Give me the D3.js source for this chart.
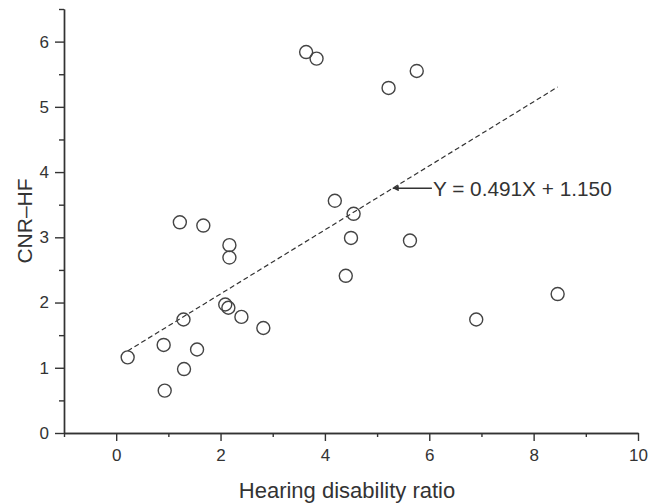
<!DOCTYPE html>
<html>
<head>
<meta charset="utf-8">
<script src="https://cdn.jsdelivr.net/npm/d3@7"></script>
<style>
  body { margin: 0; background: #fff; }
  svg { display: block; font-family: "Liberation Sans", Arial, sans-serif; }
  .axis path, .axis line { stroke: #333; stroke-width: 1.4; }
  .axis text { fill: #333; font-size: 17px; }
</style>
</head>
<body>
<div id="chart"></div>
<script>
// Hearing disability ratio (x) vs CNR-HF (y)
const hearingRatio = [0.22, 0.91, 0.93, 1.22, 1.67, 1.30, 1.55, 1.29, 2.17, 2.17, 2.09, 2.15, 2.40, 2.82,
  3.64, 3.84, 4.19, 4.55, 4.50, 4.40, 5.22, 5.76, 5.63, 6.90, 8.46];
const cnrHf = [1.16, 1.35, 0.65, 3.23, 3.18, 0.98, 1.28, 1.74, 2.88, 2.69, 1.97, 1.92, 1.78, 1.61,
  5.84, 5.74, 3.56, 3.36, 2.99, 2.41, 5.29, 5.55, 2.95, 1.74, 2.13];

const xMajorTicks = [0, 2, 4, 6, 8, 10];
const xMinorTicks = [-1, 1, 3, 5, 7, 9];
const yMajorTicks = [0, 1, 2, 3, 4, 5, 6];
const yMinorTicks = [0.5, 1.5, 2.5, 3.5, 4.5, 5.5, 6.5];

// regression Y = 0.491X + 1.150, drawn over the range of the data
const slope = 0.491;
const intercept = 1.150;
const fitLabel = "Y = 0.491X + 1.150";
const arrowFrom = 6.05;
const arrowTo = 5.30;

const width = 664, height = 503;
const margin = {top: 9, right: 26, bottom: 70, left: 64};

const svg = d3.select("#chart").append("svg")
    .attr("width", width)
    .attr("height", height);

const x = d3.scaleLinear().domain([-1, 10]).range([margin.left, width - margin.right]);
const y = d3.scaleLinear().domain([0, 6.5]).range([height - margin.bottom, margin.top]);

// axes: major ticks with labels, minor ticks without
svg.append("g")
    .attr("class", "axis")
    .attr("transform", `translate(0,${y(0)})`)
    .call(d3.axisBottom(x).tickValues(xMinorTicks).tickSize(4).tickSizeOuter(0).tickFormat(""));
svg.append("g")
    .attr("class", "axis")
    .attr("transform", `translate(0,${y(0)})`)
    .call(d3.axisBottom(x).tickValues(xMajorTicks).tickSize(8).tickSizeOuter(0).tickPadding(8)
      .tickFormat(d3.format("d")));

svg.append("g")
    .attr("class", "axis")
    .attr("transform", `translate(${x(-1)},0)`)
    .call(d3.axisLeft(y).tickValues(yMinorTicks).tickSize(5).tickSizeOuter(0).tickFormat(""));
svg.append("g")
    .attr("class", "axis")
    .attr("transform", `translate(${x(-1)},0)`)
    .call(d3.axisLeft(y).tickValues(yMajorTicks).tickSize(9).tickSizeOuter(0).tickPadding(6)
      .tickFormat(d3.format("d")));

// axis titles
svg.append("text")
    .attr("x", (x(-1) + x(10)) / 2 - 4)
    .attr("y", 498)
    .attr("text-anchor", "middle")
    .style("font-size", "22px")
    .style("fill", "#333")
    .text("Hearing disability ratio");

svg.append("text")
    .attr("transform", `translate(32,${(y(0) + y(6.5)) / 2}) rotate(-90)`)
    .attr("text-anchor", "middle")
    .style("font-size", "21px")
    .style("fill", "#333")
    .text("CNR\u2013HF");

// fitted line
const xExt = d3.extent(hearingRatio);
svg.append("line")
    .attr("x1", x(xExt[0])).attr("y1", y(slope * xExt[0] + intercept))
    .attr("x2", x(xExt[1])).attr("y2", y(slope * xExt[1] + intercept))
    .attr("stroke", "#333")
    .attr("stroke-width", 1.2)
    .attr("stroke-dasharray", "5,3");

// points
const points = hearingRatio.map((d, i) => ({x: d, y: cnrHf[i]}));
svg.append("g").selectAll("circle")
  .data(points)
  .join("circle")
    .attr("cx", d => x(d.x))
    .attr("cy", d => y(d.y))
    .attr("r", 6.5)
    .attr("fill", "none")
    .attr("stroke", "#444")
    .attr("stroke-width", 1.4);

// annotation arrow + equation
svg.append("defs").append("marker")
    .attr("id", "arrow")
    .attr("viewBox", "0 0 10 10")
    .attr("refX", 10).attr("refY", 5)
    .attr("markerWidth", 10).attr("markerHeight", 6)
    .attr("markerUnits", "userSpaceOnUse")
    .attr("orient", "auto")
  .append("path")
    .attr("d", "M0,0L10,5L0,10Z")
    .attr("fill", "#333");

const yArrow = slope * arrowTo + intercept;
svg.append("line")
    .attr("x1", x(arrowFrom)).attr("y1", y(yArrow))
    .attr("x2", x(arrowTo)).attr("y2", y(yArrow))
    .attr("stroke", "#333")
    .attr("stroke-width", 1.3)
    .attr("marker-end", "url(#arrow)");

svg.append("text")
    .attr("x", x(arrowFrom) + 1)
    .attr("y", y(yArrow))
    .attr("dy", "0.36em")
    .style("font-size", "20.8px")
    .style("fill", "#333")
    .text(fitLabel);
</script>
</body>
</html>
